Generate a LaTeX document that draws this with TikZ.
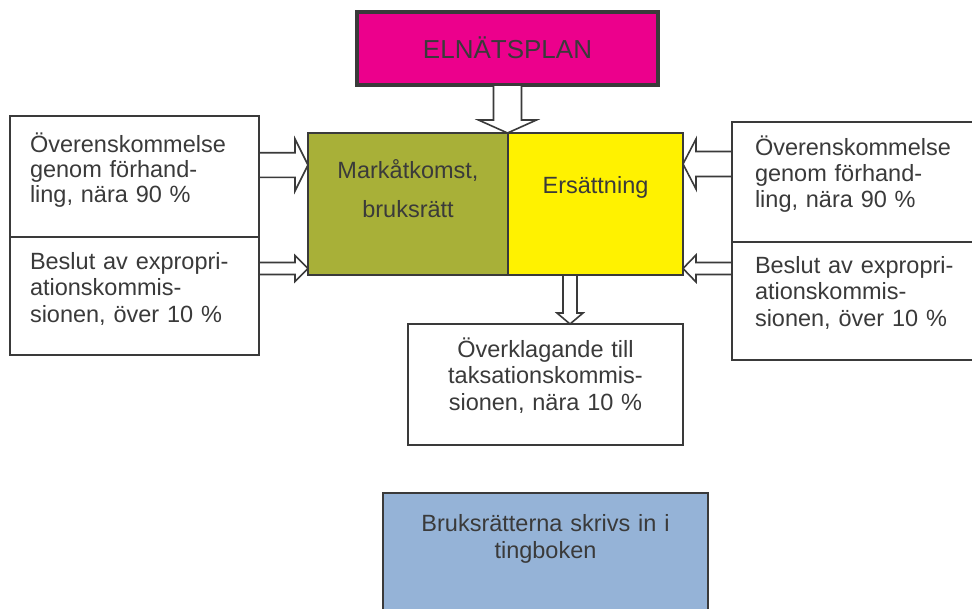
\documentclass[tikz,border=0pt]{standalone}
\usepackage{fontspec}
\setmainfont{Liberation Sans}
\usetikzlibrary{calc}
\definecolor{ink}{RGB}{58,58,58}
\definecolor{magentab}{RGB}{236,0,140}
\definecolor{oliveb}{RGB}{168,176,56}
\definecolor{yellowb}{RGB}{255,242,0}
\definecolor{blueb}{RGB}{149,179,215}
\newcommand{\fl}{\rule{0pt}{22pt}}
% block arrow: #1 start, #2 tip, #3 shaft half width, #4 head half width, #5 head length
\newcommand{\blockarrow}[5]{%
  \path ($(#2)!#5!(#1)$) coordinate (hb);
  \draw[arr] ($(#1)!#3!90:(#2)$) -- ($(hb)!#3!90:(#2)$) -- ($(hb)!#4!90:(#2)$) -- (#2)
    -- ($(hb)!#4!-90:(#2)$) -- ($(hb)!#3!-90:(#2)$) -- ($(#1)!#3!-90:(#2)$) -- cycle;}
\begin{document}
\begin{tikzpicture}[x=1pt,y=-1pt,
  box/.style={draw=ink, line width=2pt, anchor=north west, inner sep=0pt, outer sep=0pt},
  txt/.style={text=ink, inner sep=0pt, outer sep=0pt},
  arr/.style={draw=ink, fill=white, line width=1.6pt, line join=miter}]
\useasboundingbox (0,0) rectangle (972,608);
\fill[white] (0,0) rectangle (972,608);

% boxes
\node[box, fill=magentab, line width=3.5pt, minimum width=301pt, minimum height=73pt] (elnat) at (357,12) {};
\node[box, fill=oliveb, minimum width=200pt, minimum height=142pt] (mark) at (308,133) {};
\node[box, fill=yellowb, minimum width=175pt, minimum height=142pt] (ers) at (508,133) {};
\node[box, minimum width=249pt, minimum height=121pt] (l1) at (10,116) {};
\node[box, minimum width=249pt, minimum height=118pt] (l2) at (10,237) {};
\node[box, minimum width=245pt, minimum height=120pt] (r1) at (732,122) {};
\node[box, minimum width=245pt, minimum height=118pt] (r2) at (732,242) {};
\node[box, minimum width=275pt, minimum height=121pt] (ovk) at (408,324) {};
\node[box, fill=blueb, minimum width=325pt, minimum height=125pt] (bruk) at (383,493) {};

% texts
\node[txt, anchor=base, font=\fontsize{26}{28}\selectfont] (telnat) at (507.5,58) {ELNÄTSPLAN};
\node[txt, anchor=north, text width=190pt, align=center, font=\fontsize{23.5}{39}\selectfont] (tmark) at (408,156) {\fl Markåtkomst,\\bruksrätt};
\node[txt, anchor=base, font=\fontsize{23.5}{26}\selectfont] (ters) at (595.5,193) {Ersättning};
\node[txt, anchor=north west, text width=228pt, align=left, font=\fontsize{23.5}{25}\selectfont] (tl1) at (30,130) {\fl Överenskommelse\\genom förhand-\\ling, nära 90 \%};
\node[txt, anchor=north west, text width=228pt, align=left, font=\fontsize{23.5}{26.5}\selectfont] (tl2) at (30,247) {\fl\makebox[206pt][s]{Beslut av expropri-}\\ationskommis-\\sionen, över 10 \%};
\node[txt, anchor=north west, text width=215pt, align=left, font=\fontsize{23.5}{26}\selectfont] (tr1) at (755,133) {\fl Överenskommelse\\genom förhand-\\ling, nära 90 \%};
\node[txt, anchor=north west, text width=215pt, align=left, font=\fontsize{23.5}{26.7}\selectfont] (tr2) at (755,251) {\fl Beslut av expropri-\\ationskommis-\\sionen, över 10 \%};
\node[txt, anchor=north, text width=260pt, align=center, font=\fontsize{23.5}{26.5}\selectfont] (tovk) at (545.5,335) {\fl Överklagande till\\taksationskommis-\\sionen, nära 10 \%};
\node[txt, anchor=north, text width=300pt, align=center, font=\fontsize{23.5}{27}\selectfont] (tbruk) at (545.5,509) {\fl Bruksrätterna skrivs in i\\tingboken};

% arrow anchor points
\coordinate (a0) at (elnat.south);
\coordinate (b0) at (elnat.south |- mark.north);
\coordinate (a1) at ($(l1.north east)+(0,49)$);
\coordinate (b1) at (a1 -| mark.west);
\coordinate (a2) at ($(l2.north east)+(0,31.5)$);
\coordinate (b2) at (a2 -| mark.west);
\coordinate (a3) at ($(r1.north west)+(0,42)$);
\coordinate (b3) at (a3 -| ers.east);
\coordinate (a4) at ($(r2.north west)+(0,26.5)$);
\coordinate (b4) at (a4 -| ers.east);
\coordinate (a5) at ($(ers.south west)+(62,0)$);
\coordinate (b5) at (a5 |- ovk.north);

\blockarrow{a0}{b0}{14pt}{29pt}{13pt}
\blockarrow{a1}{b1}{12.3pt}{26pt}{13pt}
\blockarrow{a2}{b2}{6pt}{13pt}{13pt}
\blockarrow{a3}{b3}{12.5pt}{25pt}{13pt}
\blockarrow{a4}{b4}{6pt}{13.5pt}{13pt}
\blockarrow{a5}{b5}{7pt}{13pt}{11pt}
\end{tikzpicture}
\end{document}
